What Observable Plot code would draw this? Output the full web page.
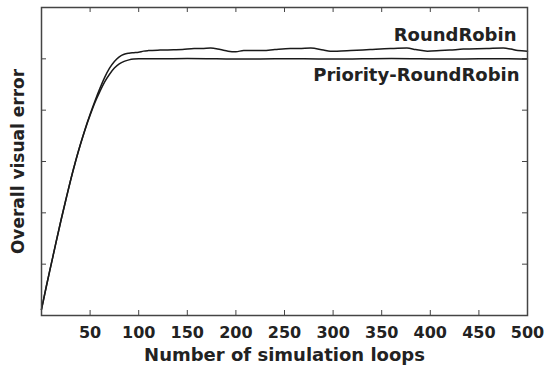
<!DOCTYPE html>
<html><head><meta charset="utf-8">
<script src="https://cdn.jsdelivr.net/npm/d3@7"></script>
<script src="https://cdn.jsdelivr.net/npm/@observablehq/plot@0.6"></script>
<style>body{margin:0;background:#fff}</style>
</head><body><div id="chart"></div>
<script>
const xTicks = [50, 100, 150, 200, 250, 300, 350, 400, 450, 500];
const yTicks = [1, 2, 3, 4, 5];
const seriesNames = ["RoundRobin", "Priority-RoundRobin"];
const xTitle = "Number of simulation loops";
const yTitle = "Overall visual error";

const rrLoops = [0,5,10,15,20,25,30,35,40,45,50,55,60,65,70,75,80,85,90,95,100,105,110,122,136,145,157,165,174,184,192,200,208,218,228,240,256,265,277,290,297,304,318,338,359,376,385,397,410,420,434,458,475,483,490,500];
const rrError = [0.12,0.57,1.0,1.43,1.85,2.25,2.64,3.0,3.33,3.64,3.92,4.18,4.42,4.64,4.82,4.95,5.04,5.09,5.11,5.12,5.13,5.15,5.16,5.17,5.175,5.18,5.20,5.20,5.21,5.18,5.15,5.14,5.16,5.16,5.16,5.18,5.20,5.20,5.21,5.17,5.15,5.15,5.16,5.18,5.20,5.21,5.18,5.15,5.16,5.17,5.19,5.20,5.21,5.19,5.16,5.15];

const prLoops = [0,5,10,15,20,25,30,35,40,45,50,55,60,65,70,75,80,85,90,95,100,120,150,180,210,240,270,300,330,360,390,420,450,480,500];
const prError = [0.12,0.57,1.0,1.43,1.85,2.25,2.64,3.0,3.33,3.63,3.9,4.15,4.36,4.55,4.7,4.82,4.9,4.95,4.98,4.995,5.0,5.0,5.005,5.0,4.995,5.0,5.0,4.995,5.0,5.005,5.0,4.995,5.0,5.0,4.995];

const rr = rrLoops.map((x, i) => ({x, y: rrError[i]}));
const pr = prLoops.map((x, i) => ({x, y: prError[i]}));

const W = 550, H = 367, mL = 41, mR = 23, mT = 7, mB = 52;
const innerW = W - mL - mR, innerH = H - mT - mB;
const tickLen = 5;
const inner = xTicks.filter(d => d < 500);

const chart = Plot.plot({
  width: W, height: H,
  marginLeft: mL, marginRight: mR, marginTop: mT, marginBottom: mB,
  style: {fontFamily: "DejaVu Sans", color: "#222", background: "#fff"},
  x: {domain: [0, 500]},
  y: {domain: [0, 6]},
  marks: [
    Plot.tickX(inner, {x: d => d, insetTop: innerH - tickLen, stroke: "#444"}),
    Plot.tickX(inner, {x: d => d, insetBottom: innerH - tickLen, stroke: "#444"}),
    Plot.tickY(yTicks, {y: d => d, insetRight: innerW - tickLen, stroke: "#444"}),
    Plot.tickY(yTicks, {y: d => d, insetLeft: innerW - tickLen, stroke: "#444"}),
    Plot.axisX({ticks: xTicks, tickSize: 0, tickPadding: 11, label: null, fontSize: 16, fontWeight: "bold", letterSpacing: 1.6}),
    Plot.axisY({ticks: [], label: null}),
    Plot.line(rr, {x: "x", y: "y", stroke: "#1a1a1a", strokeWidth: 1.5, curve: "monotone-x"}),
    Plot.line(pr, {x: "x", y: "y", stroke: "#1a1a1a", strokeWidth: 1.5, curve: "monotone-x"}),
    Plot.frame({stroke: "#444", strokeWidth: 1.5}),
    Plot.text([seriesNames[0]], {text: d => d, frameAnchor: "top-right", textAnchor: "end", lineAnchor: "middle", dx: -11, dy: 28, fontSize: 18, fontWeight: "bold", fill: "#222"}),
    Plot.text([seriesNames[1]], {text: d => d, frameAnchor: "top-right", textAnchor: "end", lineAnchor: "middle", dx: -8, dy: 68, fontSize: 18, fontWeight: "bold", fill: "#222"}),
    Plot.text([xTitle], {text: d => d, frameAnchor: "bottom", lineAnchor: "middle", dy: 40, fontSize: 18, fontWeight: "bold", letterSpacing: 1.4, fill: "#222"}),
    Plot.text([yTitle], {text: d => d, frameAnchor: "left", textAnchor: "middle", lineAnchor: "middle", rotate: -90, dx: -23, fontSize: 17, fontWeight: "bold", letterSpacing: 1.2, fill: "#222"})
  ]
});
document.getElementById("chart").appendChild(chart);
</script>
</body></html>
